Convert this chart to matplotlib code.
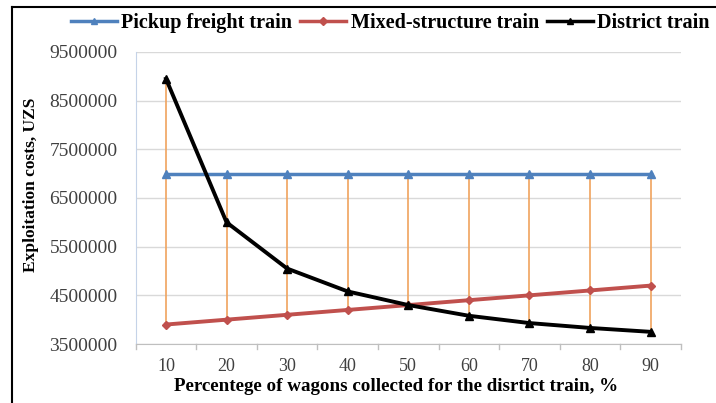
import matplotlib
matplotlib.use("Agg")
import matplotlib.pyplot as plt
from matplotlib.lines import Line2D
import numpy as np

# Percentage of wagons collected for the district train
percent = [10, 20, 30, 40, 50, 60, 70, 80, 90]

# Exploitation costs, UZS
pickup_freight = [7000000, 7000000, 7000000, 7000000, 7000000, 7000000, 7000000, 7000000, 7000000]
mixed_structure = [3900000, 4000000, 4100000, 4200000, 4300000, 4400000, 4500000, 4600000, 4700000]
district = [8950000, 6000000, 5050000, 4580000, 4300000, 4080000, 3930000, 3830000, 3750000]

y_ticks = [3500000, 4500000, 5500000, 6500000, 7500000, 8500000, 9500000]

serif = ["Liberation Serif", "DejaVu Serif"]

fig = plt.figure(figsize=(7.16, 4.03), dpi=100)
ax = fig.add_axes([0.1895, 0.1464, 0.7615, 0.7246])

x = np.arange(len(percent))

# high-low lines between the highest and lowest series at each category
stack = np.vstack([pickup_freight, mixed_structure, district])
ax.vlines(x, stack.min(axis=0), stack.max(axis=0), color="#F0A35E", lw=1.2, zorder=2)

ax.plot(x, pickup_freight, color="#4F81BD", lw=2.5, marker="^", ms=5.5,
        mfc="#4F81BD", mec="#4F81BD", zorder=4)
ax.plot(x, mixed_structure, color="#C0504D", lw=2.8, marker="D", ms=4,
        mfc="#C0504D", mec="#C0504D", zorder=4)
ax.plot(x, district, color="black", lw=2.8, marker="^", ms=6,
        mfc="black", mec="black", zorder=5)

ax.set_xlim(-0.5, len(percent) - 0.5)
ax.set_ylim(3500000, 9500000)
ax.set_yticks(y_ticks)
ax.set_yticklabels([str(v) for v in y_ticks], fontfamily=serif, fontsize=14, color="#404040")
ax.set_xticks(x)
ax.set_xticklabels([str(p) for p in percent], fontfamily=serif, fontsize=13, color="#404040")
ax.tick_params(axis="x", length=0, pad=10)
ax.tick_params(axis="y", length=0, pad=13)

# category boundary tick marks below the axis
for b in np.arange(-0.5, len(percent), 1.0):
    ax.plot([b, b], [0, -0.018], transform=ax.get_xaxis_transform(),
            color="#BFBFBF", lw=1, clip_on=False)

ax.grid(axis="y", color="#D9D9D9", lw=1)
ax.set_axisbelow(True)
for side in ["top", "right"]:
    ax.spines[side].set_visible(False)
ax.spines["left"].set_color("#C5D3E8")
ax.spines["bottom"].set_color("#BFBFBF")

ax.set_ylabel("Exploitation costs, UZS", fontfamily=serif, fontsize=12.5,
              fontweight="bold")
ax.yaxis.set_label_coords(-0.178, 0.545)
ax.set_xlabel("Percentege of wagons collected for the disrtict train, %",
              fontfamily=serif, fontsize=13.7, fontweight="bold")
ax.xaxis.set_label_coords(0.478, -0.115)

handles = [
    Line2D([], [], color="#4F81BD", lw=2.5, marker="^", ms=5),
    Line2D([], [], color="#C0504D", lw=2.5, marker="D", ms=4),
    Line2D([], [], color="black", lw=2.5, marker="^", ms=5),
]
fig.legend(handles, ["Pickup freight train", "Mixed-structure train", "District train"],
           loc="center", bbox_to_anchor=(0.545, 0.943), ncol=3, frameon=False,
           prop={"family": serif, "size": 14.5, "weight": "bold"},
           handlelength=2.3, handletextpad=0.2, columnspacing=0.4)

# outer frame lines on the top and left edges
fig.add_artist(Line2D([12 / 716, 1], [1 - 7 / 403, 1 - 7 / 403], transform=fig.transFigure,
                      color="black", lw=1.5))
fig.add_artist(Line2D([12 / 716, 12 / 716], [0, 1 - 7 / 403], transform=fig.transFigure,
                      color="black", lw=1.5))

fig.savefig("out.png", dpi=100)
